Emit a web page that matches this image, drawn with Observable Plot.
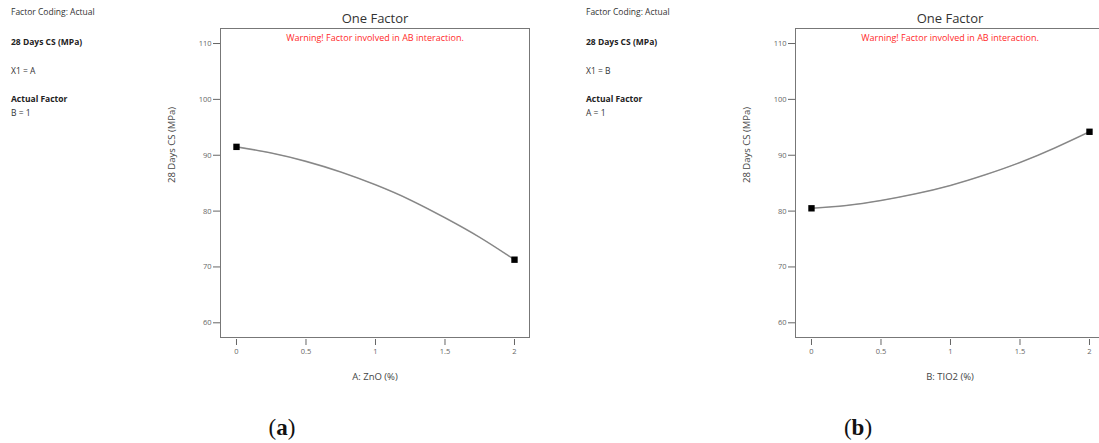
<!DOCTYPE html>
<html>
<head>
<meta charset="utf-8">
<script src="https://cdn.jsdelivr.net/npm/d3@7"></script>
<script src="https://cdn.jsdelivr.net/npm/@observablehq/plot@0.6"></script>
<style>
  html, body { margin: 0; padding: 0; background: #fff; overflow: hidden; }
  #fig { position: relative; width: 1099px; height: 443px; overflow: hidden; font-family: "Open Sans", sans-serif; }
  .info { position: absolute; font-size: 8.5px; color: #333; white-space: nowrap; line-height: 1; }
  .info b { font-weight: 700; color: #222; }
  .cap { position: absolute; font-family: "Liberation Serif", "DejaVu Serif", serif; font-size: 23px; color: #111; transform: translate(-50%, -50%); white-space: nowrap; }
  .panel { position: absolute; top: 0; }
</style>
</head>
<body>
<div id="fig"></div>
<script>
// ---- data ----
const xLevels = [0, 0.25, 0.5, 0.75, 1, 1.25, 1.5, 1.75, 2];
const csVsZnO = [91.5, 90.4, 88.9, 87.0, 84.7, 82.0, 78.8, 75.3, 71.3];   // panel (a), B = 1
const csVsTiO2 = [80.5, 81.0, 81.9, 83.1, 84.6, 86.5, 88.7, 91.3, 94.2]; // panel (b), A = 1
const xTicks = [0, 0.5, 1, 1.5, 2];
const yTicks = [60, 70, 80, 90, 100, 110];
const panelsMeta = [
  {x1: "X1 = A", actual: "B = 1", xLabel: "A: ZnO (%)", cap: "a", values: csVsZnO},
  {x1: "X1 = B", actual: "A = 1", xLabel: "B: TIO2 (%)", cap: "b", values: csVsTiO2}
];
const titleText = "One Factor";
const warnText = "Warning! Factor involved in AB interaction.";
const yLabel = "28 Days CS (MPa)";

function panel(meta) {
  const rows = xLevels.map((x, i) => ({x, y: meta.values[i]}));
  const ends = [rows[0], rows[rows.length - 1]];
  return Plot.plot({
    width: 395, height: 390,
    marginLeft: 70, marginRight: 16, marginTop: 28, marginBottom: 53,
    style: {fontFamily: "'Open Sans', sans-serif", background: "transparent", overflow: "visible"},
    x: {domain: [-0.115, 2.108]},
    y: {domain: [57.37, 112.69]},
    marks: [
      Plot.frame({stroke: "#777", strokeWidth: 1}),
      Plot.axisY({ticks: yTicks, tickSize: 7, tickPadding: 2, fontSize: 7.5, color: "#666", label: null}),
      Plot.axisX({ticks: xTicks, tickSize: 6, tickPadding: 3, dy: 2, fontSize: 7.5, color: "#666", label: null,
                  tickFormat: d => String(d)}),
      Plot.text([yLabel], {text: d => d, frameAnchor: "left", rotate: -90, dx: -49, fontSize: 9.5, fill: "#444"}),
      Plot.text([meta.xLabel], {text: d => d, frameAnchor: "bottom", lineAnchor: "middle", dy: 39, fontSize: 9.5, fill: "#444"}),
      Plot.text([titleText], {text: d => d, frameAnchor: "top", lineAnchor: "middle", dy: -10, fontSize: 13, fill: "#333"}),
      Plot.text([warnText], {text: d => d, frameAnchor: "top", lineAnchor: "middle", dy: 10, fontSize: 9, fill: "#ff2a2a"}),
      Plot.line(rows, {x: "x", y: "y", curve: "natural", stroke: "#a0a0a0", strokeWidth: 1.6}),
      Plot.line(rows, {x: "x", y: "y", curve: "natural", stroke: "#666", strokeWidth: 0.5}),
      Plot.dot(ends, {x: "x", y: "y", symbol: "square", r: 3.6, fill: "#000", stroke: "none"})
    ]
  });
}

const fig = document.getElementById("fig");
const offsets = [{svg: 150, info: 11, cap: 282}, {svg: 725, info: 586, cap: 858}];
panelsMeta.forEach((meta, i) => {
  const o = offsets[i];
  const svg = panel(meta);
  svg.classList.add("panel");
  svg.style.left = o.svg + "px";
  fig.appendChild(svg);
  const lines = [
    {t: "Factor Coding: Actual", y: 8, b: false},
    {t: yLabel, y: 38, b: true},
    {t: meta.x1, y: 67, b: false},
    {t: "Actual Factor", y: 95, b: true},
    {t: meta.actual, y: 109, b: false}
  ];
  lines.forEach(l => {
    const d = document.createElement("div");
    d.className = "info";
    d.style.left = o.info + "px";
    d.style.top = l.y + "px";
    if (l.b) { const b = document.createElement("b"); b.textContent = l.t; d.appendChild(b); }
    else d.textContent = l.t;
    fig.appendChild(d);
  });
  const c = document.createElement("div");
  c.className = "cap";
  c.style.left = o.cap + "px";
  c.style.top = "428px";
  c.innerHTML = "(<b>" + meta.cap + "</b>)";
  fig.appendChild(c);
});
</script>
</body>
</html>
